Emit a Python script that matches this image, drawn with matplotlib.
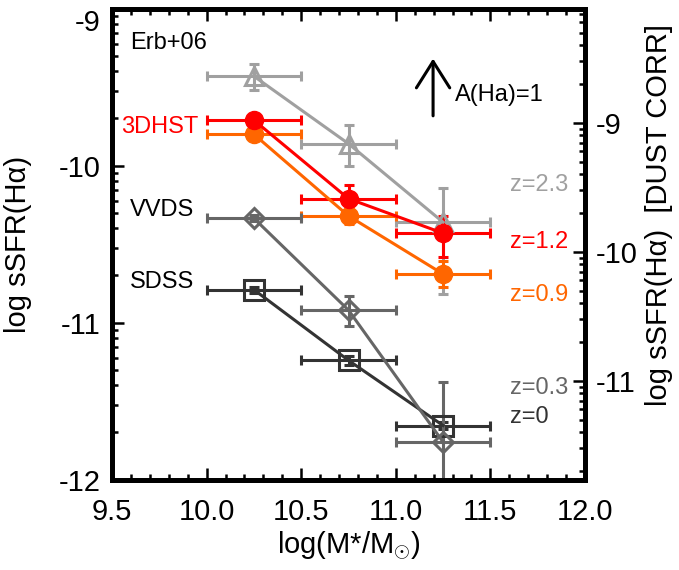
import numpy as np
import matplotlib
matplotlib.use("Agg")
import matplotlib.pyplot as plt
from matplotlib.patches import FancyArrowPatch

plt.rcParams["font.family"] = ["Liberation Sans", "DejaVu Sans"]
plt.rcParams["mathtext.fontset"] = "custom"
plt.rcParams["mathtext.rm"] = "Liberation Sans"
plt.rcParams["mathtext.it"] = "Liberation Sans:italic"

# =====================================
# Data (log sSFR vs log stellar mass)
# =====================================

mass_bins = [10.25, 10.75, 11.25]
mass_err = [0.25, 0.25, 0.25]

erb_y = [-9.43, -9.86, -10.36]
erb_lo = [0.09, 0.14, 0.46]
erb_hi = [0.08, 0.12, 0.22]

hst12_y = [-9.71, -10.21, -10.43]
hst12_lo = [0.03, 0.10, 0.15]
hst12_hi = [0.03, 0.09, 0.11]

hst09_y = [-9.80, -10.32, -10.69]
hst09_lo = [0.03, 0.05, 0.08]
hst09_hi = [0.03, 0.05, 0.08]

vvds_y = [-10.335, -10.92, -11.76]
vvds_lo = [0.02, 0.10, 1.0]
vvds_hi = [0.02, 0.09, 0.38]

sdss_y = [-10.79, -11.24, -11.655]
sdss_lo = [0.02, 0.03, 0.02]
sdss_hi = [0.02, 0.03, 0.02]

c_erb = "#a0a0a0"
c_12 = "#ff0000"
c_09 = "#ff6600"
c_vvds = "#666666"
c_sdss = "#333333"

# =====================================
# Figure
# =====================================

fig = plt.figure(figsize=(6.79, 5.70), dpi=100)
ax = fig.add_axes([0.16495, 0.15842, 0.69661, 0.82632])

common = dict(capsize=3.5, capthick=2.2, elinewidth=2.2, lw=2.2)

ax.errorbar(mass_bins, erb_y, xerr=mass_err, yerr=[erb_lo, erb_hi],
            color=c_erb, marker="^", ms=13, mfc="none", mec=c_erb, mew=2.2, **common)
ax.errorbar(mass_bins, hst09_y, xerr=mass_err, yerr=[hst09_lo, hst09_hi],
            color=c_09, marker="o", ms=13, **common)
ax.errorbar(mass_bins, hst12_y, xerr=mass_err, yerr=[hst12_lo, hst12_hi],
            color=c_12, marker="o", ms=13, **common)
ax.errorbar(mass_bins, sdss_y, xerr=mass_err, yerr=[sdss_lo, sdss_hi],
            color=c_sdss, marker="s", ms=14, mfc="none", mec=c_sdss, mew=2.2, **common)
ax.errorbar(mass_bins, vvds_y, xerr=mass_err, yerr=[vvds_lo, vvds_hi],
            color=c_vvds, marker="D", ms=10, mfc="none", mec=c_vvds, mew=2.2, **common)

ax.set_xlim(9.5, 12.0)
ax.set_ylim(-12, -9)

# log-style minor ticks (sSFR drawn on a log axis in the original)
def log_minor(lo, hi):
    out = []
    for n in range(-14, -6):
        for k in range(2, 10):
            v = n + np.log10(k)
            if lo < v < hi:
                out.append(v)
    return out

ax.set_xticks([9.5, 10.0, 10.5, 11.0, 11.5, 12.0])
ax.set_xticklabels(["9.5", "10.0", "10.5", "11.0", "11.5", "12.0"])
ax.set_xticks(np.arange(9.6, 12.0, 0.1), minor=True)
ax.set_yticks([-12, -11, -10, -9])
ax.set_yticklabels(["-12", "-11", "-10", "-9"])
ax.set_yticks(log_minor(-12, -9), minor=True)

ax.tick_params(axis="both", which="both", direction="in", top=True, right=False,
               labelsize=21)
ax.tick_params(axis="both", which="major", length=8.5, width=1.8)
ax.tick_params(axis="both", which="minor", length=4.3, width=1.8)
ax.tick_params(axis="x", pad=13)
ax.tick_params(axis="y", pad=8)
ax.get_yticklabels()[-1].set_verticalalignment("top")

for s in ax.spines.values():
    s.set_linewidth(3.5)

ax.set_xlabel("log(M*/M$_{\\odot}$)", fontsize=21, labelpad=2)
ax.set_ylabel("log sSFR(H\u03b1)", fontsize=21)
ax.yaxis.set_label_coords(-0.169, 0.5)

# right axis: dust corrected scale
ax2 = ax.twinx()
ax2.set_ylim(-11.767, -8.116)
ax2.set_yticks([-11, -10, -9])
ax2.set_yticklabels(["-11", "-10", "-9"])
ax2.set_yticks(log_minor(-11.767, -8.116), minor=True)
ax2.tick_params(axis="y", which="both", direction="in", labelsize=21, pad=8)
ax2.tick_params(axis="y", which="major", length=8.5, width=1.8)
ax2.tick_params(axis="y", which="minor", length=4.3, width=1.8)
for s in ax2.spines.values():
    s.set_linewidth(3.5)
ax2.set_ylabel("log sSFR(H\u03b1)  [DUST CORR]", fontsize=21)
ax2.yaxis.set_label_coords(1.127, 0.562)

# =====================================
# Labels
# =====================================

ax.text(9.595, -9.218, "Erb+06", fontsize=17, color="black", va="center", ha="left")
ax.text(9.955, -9.753, "3DHST", fontsize=17, color=c_12, va="center", ha="right")
ax.text(9.595, -10.283, "VVDS", fontsize=17, color="black", va="center", ha="left")
ax.text(9.595, -10.739, "SDSS", fontsize=17, color="black", va="center", ha="left")

ax.text(11.604, -10.123, "z=2.3", fontsize=17, color=c_erb, va="center", ha="left")
ax.text(11.604, -10.484, "z=1.2", fontsize=17, color=c_12, va="center", ha="left")
ax.text(11.604, -10.824, "z=0.9", fontsize=17, color=c_09, va="center", ha="left")
ax.text(11.604, -11.418, "z=0.3", fontsize=17, color=c_vvds, va="center", ha="left")
ax.text(11.604, -11.599, "z=0", fontsize=17, color=c_sdss, va="center", ha="left")

arrow = FancyArrowPatch((11.197, -9.70), (11.197, -9.30),
                        arrowstyle="->,head_length=0.95,head_width=0.6",
                        mutation_scale=20, lw=2.2, color="black")
ax.add_patch(arrow)
ax.text(11.313, -9.55, "A(Ha)=1", fontsize=17, color="black", va="center", ha="left")

plt.savefig("out.png", dpi=100)
